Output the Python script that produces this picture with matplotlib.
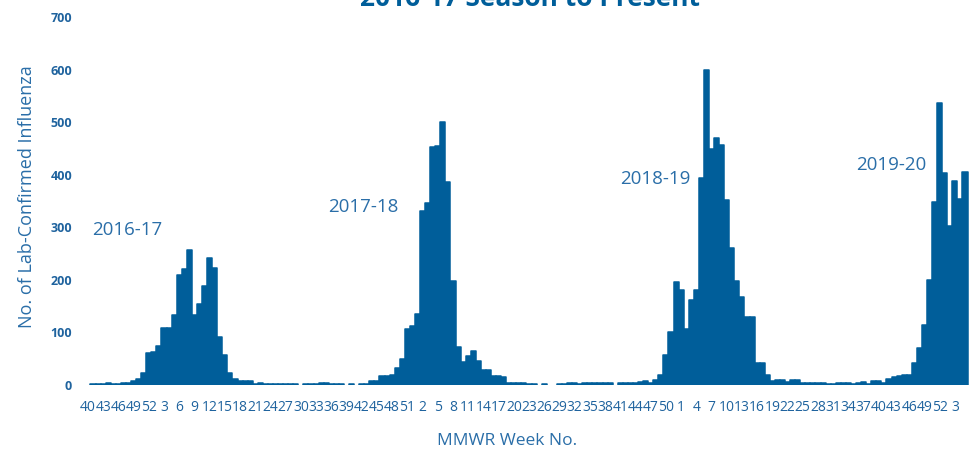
import matplotlib
matplotlib.use("Agg")
import matplotlib.pyplot as plt

# MMWR weeks, 2016 wk40 through 2020 wk5
weeks = list(range(40, 53)) + list(range(1, 53)) * 3 + list(range(1, 6))

# Weekly lab-confirmed influenza counts
season_2016_17 = [0, 2, 2, 1, 3, 2, 2, 3, 4, 7, 11, 23, 60, 62, 74, 109, 108, 133,
                  210, 220, 257, 133, 155, 189, 241, 222, 92, 57, 22, 11, 8, 8, 7, 2, 4,
                  2, 1, 2, 2, 2, 1, 1, 0, 1, 1, 2]
season_2017_18 = [3, 3, 2, 2, 2, 0, 2, 0, 2, 2, 8, 8, 18, 18, 20, 32, 50,
                  106, 112, 136, 331, 347, 452, 455, 501, 387, 197, 72, 44, 55, 65,
                  46, 28, 28, 17, 17, 15, 4, 3,
                  3, 3, 1, 1, 0, 1, 0, 0, 2, 2, 3, 3, 1, 3, 3, 4]
season_2018_19 = [3, 3, 3, 0, 3, 3, 3, 3, 5, 8, 4, 10, 19, 57, 101, 195, 181, 106,
                  162, 181, 393, 600, 448, 469, 457, 352, 260, 197, 168, 129, 129,
                  42, 42, 19, 8, 10, 10, 6, 10, 10,
                  4, 4, 3, 3, 3, 1, 1]
season_2019_20 = [4, 4, 4, 2, 3, 6, 2, 8, 8, 4, 12, 15, 17, 19, 19, 42, 70, 115,
                  200, 349, 536, 403, 302, 389, 353, 406]

cases = season_2016_17 + season_2017_18 + season_2018_19 + season_2019_20

season_labels = ["2016-17", "2017-18", "2018-19", "2019-20"]
label_pos = [(7.8, 294), (54.4, 338), (112.0, 391), (158.4, 419)]

bar_color = "#005e9a"
text_color = "#2a6ea8"

fig = plt.figure(figsize=(9.7, 4.51), dpi=100)
ax = fig.add_axes([0.0844, 0.1463, 0.9157, 0.816])

x = list(range(len(cases)))
xs = [i for i in x if cases[i] > 0]
ys = [cases[i] for i in xs]
ax.bar(xs, ys, width=1.0, color=bar_color, edgecolor=bar_color,
       linewidth=1.1, joinstyle="round")

for lab, (lx, ly) in zip(season_labels, label_pos):
    ax.text(lx, ly, lab, ha="center", va="center", fontsize=13.5,
            family="Open Sans", color=text_color)

ax.set_xlim(-1.2, 174.0)
ax.set_ylim(0, 700)

ax.set_xticks(x[::3])
ax.set_xticklabels([str(w) for w in weeks[::3]], fontsize=10,
                   family="Open Sans", color="#1f639e")
ax.set_yticks(range(0, 701, 100))
ax.set_yticklabels([str(v) for v in range(0, 701, 100)], fontsize=9,
                   family="Open Sans", fontweight="bold", color="#1f639e")
ax.tick_params(axis="both", length=0)
ax.tick_params(axis="x", pad=11)
ax.tick_params(axis="y", pad=7)
for s in ax.spines.values():
    s.set_visible(False)

fig.text(507 / 970, 1 - 441 / 451, "MMWR Week No.", ha="center", va="center",
         fontsize=12.5, family="Open Sans", color=text_color)
fig.text(0.028, 0.565, "No. of Lab-Confirmed Influenza", rotation=90,
         ha="center", va="center", fontsize=13, family="Open Sans",
         color=text_color)

fig.text(0.546, 1 - 6 / 451, "2016-17 Season to Present", ha="center",
         va="baseline", fontsize=19, fontweight="bold", family="Open Sans",
         color=bar_color)

fig.savefig("out.png", dpi=100)
